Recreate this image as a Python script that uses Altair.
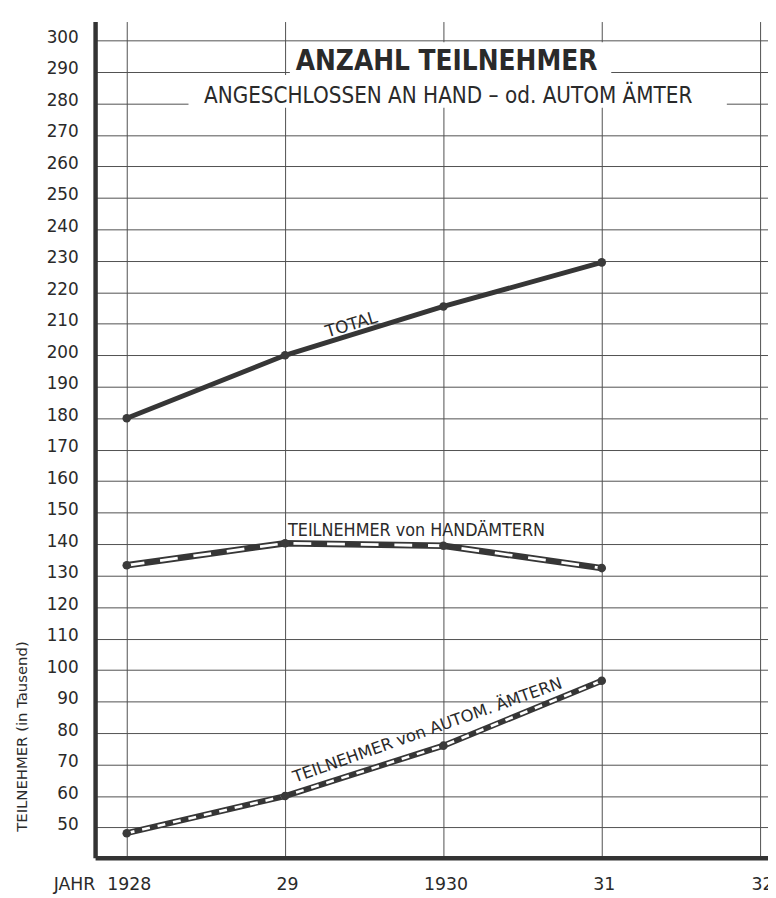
import altair as alt
import pandas as pd

# ---------------- data ----------------
years = [1928, 1929, 1930, 1931]
total = [180.0, 200.0, 215.5, 229.5]
hand = [133.3, 140.3, 139.5, 132.4]
autom = [48.2, 60.0, 76.0, 96.6]

x_ticks = [1928, 1929, 1930, 1931, 1932]
x_tick_labels = ["1928", "29", "1930", "31", "32"]
y_ticks = list(range(50, 301, 10))

title_text = "ANZAHL TEILNEHMER"
subtitle_text = "ANGESCHLOSSEN AN HAND – od. AUTOM  ÄMTER"
y_title = "TEILNEHMER (in Tausend)"
x_prefix = "JAHR"
label_total = "TOTAL"
label_hand = "TEILNEHMER von HANDÄMTERN"
label_autom = "TEILNEHMER von AUTOM. ÄMTERN"

# ---------------- tables ----------------
df_total = pd.DataFrame({"year": years, "value": total})
df_hand = pd.DataFrame({"year": years, "value": hand})
df_autom = pd.DataFrame({"year": years, "value": autom})
df_points = pd.concat([df_total, df_hand, df_autom], ignore_index=True)

INK = "#363636"
FONT = "DejaVu Sans"
FONT_C = "DejaVu Sans Condensed"

label_expr = " : ".join(
    f"datum.value == {v} ? '{l}'" for v, l in zip(x_ticks, x_tick_labels)
) + " : ''"

xs = alt.Scale(domain=[1927.8, 1932.05], nice=False, zero=False)
ys = alt.Scale(domain=[40.4, 306], nice=False, zero=False)

x_axis = alt.Axis(
    values=x_ticks, labelExpr=label_expr, grid=True, gridColor="#505050",
    gridWidth=1, ticks=False, domain=True, domainColor="#333333",
    domainWidth=4.5, labelFont=FONT, labelFontSize=17.5, labelColor="#2a2a2a",
    labelPadding=27, labelBaseline="middle", labelFlush=False, labelOffset=2,
    labelOverlap=False,
)
y_axis = alt.Axis(
    values=y_ticks, grid=True, gridColor="#505050", gridWidth=1, ticks=False,
    domain=True, domainColor="#333333", domainWidth=4.5, labelFont=FONT,
    labelFontSize=17, labelColor="#2a2a2a", labelPadding=17, labelOffset=-3,
    labelOverlap=False, title=y_title, titleFont=FONT, titleFontSize=15,
    titleFontWeight="normal", titleColor="#2a2a2a", titleAngle=270,
    titleX=-74, titleY=722, titleAlign="center", titleBaseline="middle",
)

X = alt.X("year:Q", scale=xs, axis=x_axis, title=None)
Y = alt.Y("value:Q", scale=ys, axis=y_axis)

# white boxes behind the title block
df_boxes = pd.DataFrame({
    "year": [1929.03, 1928.39], "year2": [1931.06, 1931.79],
    "value": [299.4, 289.0], "value2": [289.0, 278.6],
})
boxes = alt.Chart(df_boxes).mark_rect(color="white").encode(
    x=X, x2="year2:Q", y=Y, y2="value2:Q"
)

line_total = alt.Chart(df_total).mark_line(color=INK, strokeWidth=5).encode(x=X, y=Y)

hand_dark = alt.Chart(df_hand).mark_line(color=INK, strokeWidth=6.5).encode(x=X, y=Y)
hand_white = alt.Chart(df_hand).mark_line(
    color="white", strokeWidth=2.8, strokeDash=[18, 16]
).encode(x=X, y=Y)

autom_dark = alt.Chart(df_autom).mark_line(color=INK, strokeWidth=6).encode(x=X, y=Y)
autom_white = alt.Chart(df_autom).mark_line(
    color="white", strokeWidth=2.6, strokeDash=[8, 8]
).encode(x=X, y=Y)

points = alt.Chart(df_points).mark_circle(size=75, color="#3a3a3a", opacity=1).encode(x=X, y=Y)


def text_layer(text, xv, yv, size, angle=0, weight="normal", font=FONT, align="center"):
    d = pd.DataFrame({"year": [xv], "value": [yv], "t": [text]})
    return alt.Chart(d).mark_text(
        font=font, fontSize=size, fontWeight=weight, angle=angle, color="#2a2a2a",
        align=align, baseline="middle",
    ).encode(x=X, y=Y, text="t:N")


t_title = text_layer(title_text, 1930.02, 293.1, 28, weight="bold", font=FONT_C)
t_sub = text_layer(subtitle_text, 1930.03, 282.4, 22.5, font=FONT_C)
t_total = text_layer(label_total, 1929.42, 209.6, 17, angle=343)
t_hand = text_layer(label_hand, 1929.83, 144.3, 18, font=FONT_C)
t_autom = text_layer(label_autom, 1929.90, 80.8, 16.5, angle=340.5)
t_jahr = text_layer(x_prefix, 1927.67, 31.75, 17.5)

chart = alt.layer(
    boxes, line_total, hand_dark, hand_white, autom_dark, autom_white, points,
    t_title, t_sub, t_total, t_hand, t_autom, t_jahr,
).properties(
    width=680, height=845,
    padding={"left": 88, "top": 9, "right": 0, "bottom": 36},
    autosize=alt.AutoSizeParams(type="none"),
).configure_view(stroke=None)

chart.save("out.html", embed_options={"renderer": "svg", "actions": False})
